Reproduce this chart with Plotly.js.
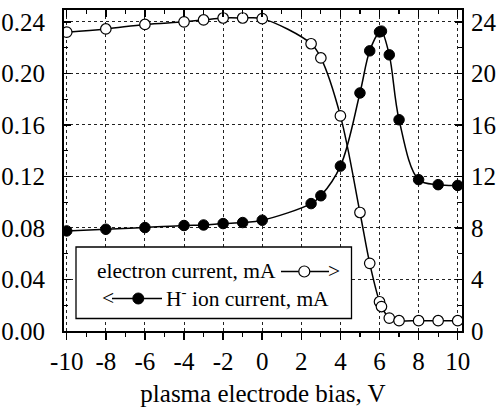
<!DOCTYPE html>
<html>
<head>
<meta charset="utf-8">
<script src="https://cdn.plot.ly/plotly-3.0.1.min.js"></script>
<style>html,body{margin:0;padding:0;background:#fff;}#chart{width:498px;height:412px;}</style>
</head>
<body>
<div id="chart"></div>
<script>
// Data
var biasElectron = [-10, -8, -6, -4, -3, -2, -1, 0, 2.5, 3, 4, 5, 5.5, 6, 6.1, 6.5, 7, 8, 9, 10];
var electronCurrent_mA = [23.2, 23.45, 23.8, 24.0, 24.15, 24.3, 24.3, 24.25, 22.3, 21.2, 16.7, 9.2, 5.25, 2.27, 1.9, 1.0, 0.8, 0.8, 0.8, 0.8];

var biasIon = [-10, -8, -6, -4, -3, -2, -1, 0, 2.5, 3, 4, 5, 5.5, 6, 6.1, 6.5, 7, 8, 9, 10];
var ionCurrent_mA = [0.0777, 0.079, 0.0803, 0.0819, 0.0823, 0.0834, 0.0842, 0.086, 0.0989, 0.105, 0.128, 0.1848, 0.2175, 0.2322, 0.2328, 0.2144, 0.164, 0.1175, 0.1136, 0.113];

var xTickVals = [-10, -8, -6, -4, -2, 0, 2, 4, 6, 8, 10];
var xTickLabels = ['-10', '-8', '-6', '-4', '-2', '0', '2', '4', '6', '8', '10'];

var legendLine1 = 'electron current, mA';
var legendLine2 = 'H<sup>-</sup> ion current, mA';
var xTitle = 'plasma electrode bias, V';

var FONT = '"Liberation Serif", "Times New Roman", serif';

// pixel -> paper helpers for the hand-made legend
var PL = 64, PR = 462, PT = 10, PB = 331;
function px(x) { return (x - PL) / (PR - PL); }
function py(y) { return (PB - y) / (PB - PT); }

var traces = [
  {
    x: biasIon, y: ionCurrent_mA, xaxis: 'x', yaxis: 'y',
    mode: 'lines+markers', type: 'scatter',
    line: {color: '#000', width: 1.5, shape: 'spline', smoothing: 1},
    marker: {symbol: 'circle', size: 10.5, color: '#000', line: {color: '#000', width: 1}},
    showlegend: false, hoverinfo: 'skip'
  },
  {
    x: biasElectron, y: electronCurrent_mA, xaxis: 'x', yaxis: 'y2',
    mode: 'lines+markers', type: 'scatter',
    line: {color: '#000', width: 1.5, shape: 'spline', smoothing: 1},
    marker: {symbol: 'circle', size: 10.5, color: '#fff', line: {color: '#000', width: 1.2}},
    showlegend: false, hoverinfo: 'skip'
  },
  {
    x: biasIon, y: ionCurrent_mA, xaxis: 'x2', yaxis: 'y',
    mode: 'none', type: 'scatter', showlegend: false, hoverinfo: 'skip'
  }
];

var shapes = [];
// legend box
shapes.push({type: 'rect', xref: 'paper', yref: 'paper', x0: px(76), x1: px(351.5), y0: py(318.5), y1: py(247),
  line: {color: '#000', width: 1.3}, fillcolor: '#fff', layer: 'above'});
// row 1: line - open circle - line
shapes.push({type: 'line', xref: 'paper', yref: 'paper', x0: px(281), x1: px(329), y0: py(271.5), y1: py(271.5), line: {color: '#000', width: 1.5}, layer: 'above'});
shapes.push({type: 'circle', xref: 'paper', yref: 'paper', x0: px(298.8), x1: px(309.8), y0: py(277), y1: py(266), line: {color: '#000', width: 1.2}, fillcolor: '#fff', layer: 'above'});
// row 2: line - filled circle - line
shapes.push({type: 'line', xref: 'paper', yref: 'paper', x0: px(112), x1: px(162), y0: py(298.5), y1: py(298.5), line: {color: '#000', width: 1.5}, layer: 'above'});
shapes.push({type: 'circle', xref: 'paper', yref: 'paper', x0: px(132.8), x1: px(143.8), y0: py(304), y1: py(293), line: {color: '#000', width: 1}, fillcolor: '#000', layer: 'above'});

var annFont = {family: FONT, size: 21.5, color: '#000'};
var annotations = [
  {xref: 'paper', yref: 'paper', x: px(278), y: py(271), xanchor: 'right', yanchor: 'middle', text: legendLine1, showarrow: false, font: annFont},
  {xref: 'paper', yref: 'paper', x: px(326), y: py(270.5), xanchor: 'left', yanchor: 'middle', text: '&gt;', showarrow: false, font: annFont},
  {xref: 'paper', yref: 'paper', x: px(116), y: py(297.5), xanchor: 'right', yanchor: 'middle', text: '&lt;', showarrow: false, font: annFont},
  {xref: 'paper', yref: 'paper', x: px(164), y: py(297.5), xanchor: 'left', yanchor: 'middle', text: legendLine2, showarrow: false, font: annFont}
];

var tickFont = {family: FONT, size: 25, color: '#000'};

var layout = {
  width: 498, height: 412,
  margin: {l: PL, r: 498 - PR, t: PT, b: 412 - PB},
  paper_bgcolor: '#fff', plot_bgcolor: '#fff',
  showlegend: false,
  font: {family: FONT, color: '#000'},
  xaxis: {
    range: [-10.14, 10.22], tickmode: 'array', tickvals: xTickVals, ticktext: xTickLabels,
    ticks: 'outside', ticklen: 7, tickwidth: 1.5, tickcolor: '#000',
    minor: {dtick: 1, tick0: 0, ticks: 'outside', ticklen: 4, tickwidth: 1.2, tickcolor: '#000', showgrid: false},
    showgrid: true, gridcolor: '#222', griddash: 'dot', gridwidth: 1,
    zeroline: false, showline: true, linecolor: '#000', linewidth: 2,
    tickfont: tickFont, ticklabelstandoff: 0,
    title: {text: xTitle, font: {family: FONT, size: 25, color: '#000'}, standoff: 10},
    fixedrange: true
  },
  xaxis2: {
    overlaying: 'x', side: 'top', anchor: 'y', matches: 'x',
    range: [-10.14, 10.22], dtick: 2, tick0: 0,
    ticks: 'inside', ticklen: 7, tickwidth: 1.5, tickcolor: '#000',
    minor: {dtick: 1, tick0: 0, ticks: 'inside', ticklen: 4, tickwidth: 1.2, tickcolor: '#000', showgrid: false},
    showticklabels: false, showgrid: false, zeroline: false,
    showline: true, linecolor: '#000', linewidth: 2, fixedrange: true
  },
  yaxis: {
    range: [0, 0.2492], dtick: 0.04, tick0: 0, tickformat: '.2f',
    ticks: 'inside', ticklen: 7, tickwidth: 1.5, tickcolor: '#000',
    minor: {dtick: 0.02, tick0: 0, ticks: 'inside', ticklen: 4, tickwidth: 1.2, tickcolor: '#000', showgrid: false},
    showgrid: true, gridcolor: '#222', griddash: 'dot', gridwidth: 1,
    zeroline: false, showline: true, linecolor: '#000', linewidth: 2,
    tickfont: tickFont, ticklabelstandoff: 12, fixedrange: true
  },
  yaxis2: {
    overlaying: 'y', side: 'right', anchor: 'x',
    range: [0, 24.92], dtick: 4, tick0: 0,
    ticks: 'inside', ticklen: 7, tickwidth: 1.5, tickcolor: '#000',
    minor: {dtick: 2, tick0: 0, ticks: 'inside', ticklen: 4, tickwidth: 1.2, tickcolor: '#000', showgrid: false},
    showgrid: false, zeroline: false, showline: true, linecolor: '#000', linewidth: 2,
    tickfont: tickFont, ticklabelstandoff: 2, fixedrange: true
  },
  shapes: shapes,
  annotations: annotations
};

Plotly.newPlot('chart', traces, layout, {staticPlot: true, displayModeBar: false});
</script>
</body>
</html>
